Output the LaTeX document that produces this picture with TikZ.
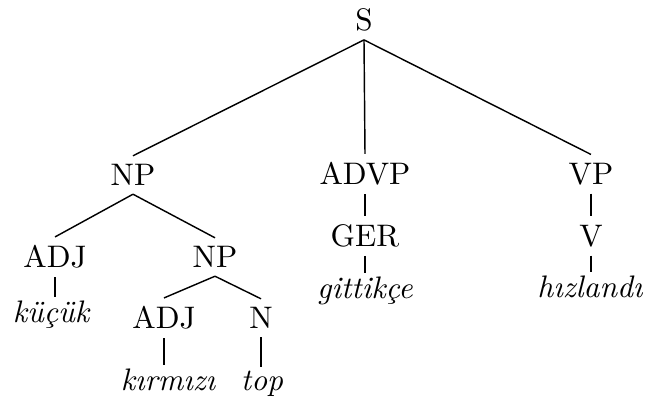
\documentclass[tikz,border=0pt]{standalone}
\begin{document}
\begin{tikzpicture}[x=0.35pt,y=-0.35pt,
        cat/.style={inner xsep=0pt,inner ysep=2.8pt,font=\fontsize{10.9}{12}\selectfont},
        word/.style={anchor=base,inner xsep=0pt,inner ysep=1pt,font=\fontsize{10.9}{12}\selectfont\itshape},
        branch/.style={line width=0.5pt}]
        \useasboundingbox (0,0) rectangle (646,402);
        \node[cat] (s) at (364,20) {S};
        \node[cat] (np) at (133,175) {NP};
        \node[cat] (advp) at (365,174) {ADVP};
        \node[cat] (vp) at (591,174) {VP};
        \node[cat] (adja) at (55,257) {ADJ};
        \node[cat] (npb) at (215,257) {NP};
        \node[cat] (ger) at (365,236) {GER};
        \node[cat] (v) at (591,236) {V};
        \node[cat] (adjb) at (164,318) {ADJ};
        \node[cat] (n) at (261,318) {N};
        \node[word] (kucuk) at (51,322) {küçük};
        \node[word] (gittikce) at (365,298) {gittikçe};
        \node[word] (hizlandi) at (590,297) {hızlandı};
        \node[word] (kirmizi) at (168,390) {kırmızı};
        \node[word] (top) at (262,390) {top};
        \draw[branch] (s.south) -- (np.north);
        \draw[branch] (s.south) -- (advp.north);
        \draw[branch] (s.south) -- (vp.north);
        \draw[branch] (np.south) -- (adja.north);
        \draw[branch] (np.south) -- (npb.north);
        \draw[branch] (npb.south) -- (adjb.north);
        \draw[branch] (npb.south) -- (n.north);
        \draw[branch] (adja.south) -- (adja.south |- kucuk.north);
        \draw[branch] (advp.south) -- (ger.north);
        \draw[branch] (ger.south) -- (ger.south |- gittikce.north);
        \draw[branch] (vp.south) -- (v.north);
        \draw[branch] (v.south) -- (v.south |- hizlandi.north);
        \draw[branch] (adjb.south) -- (adjb.south |- kirmizi.north);
        \draw[branch] (n.south) -- (n.south |- top.north);
\end{tikzpicture}
\end{document}
